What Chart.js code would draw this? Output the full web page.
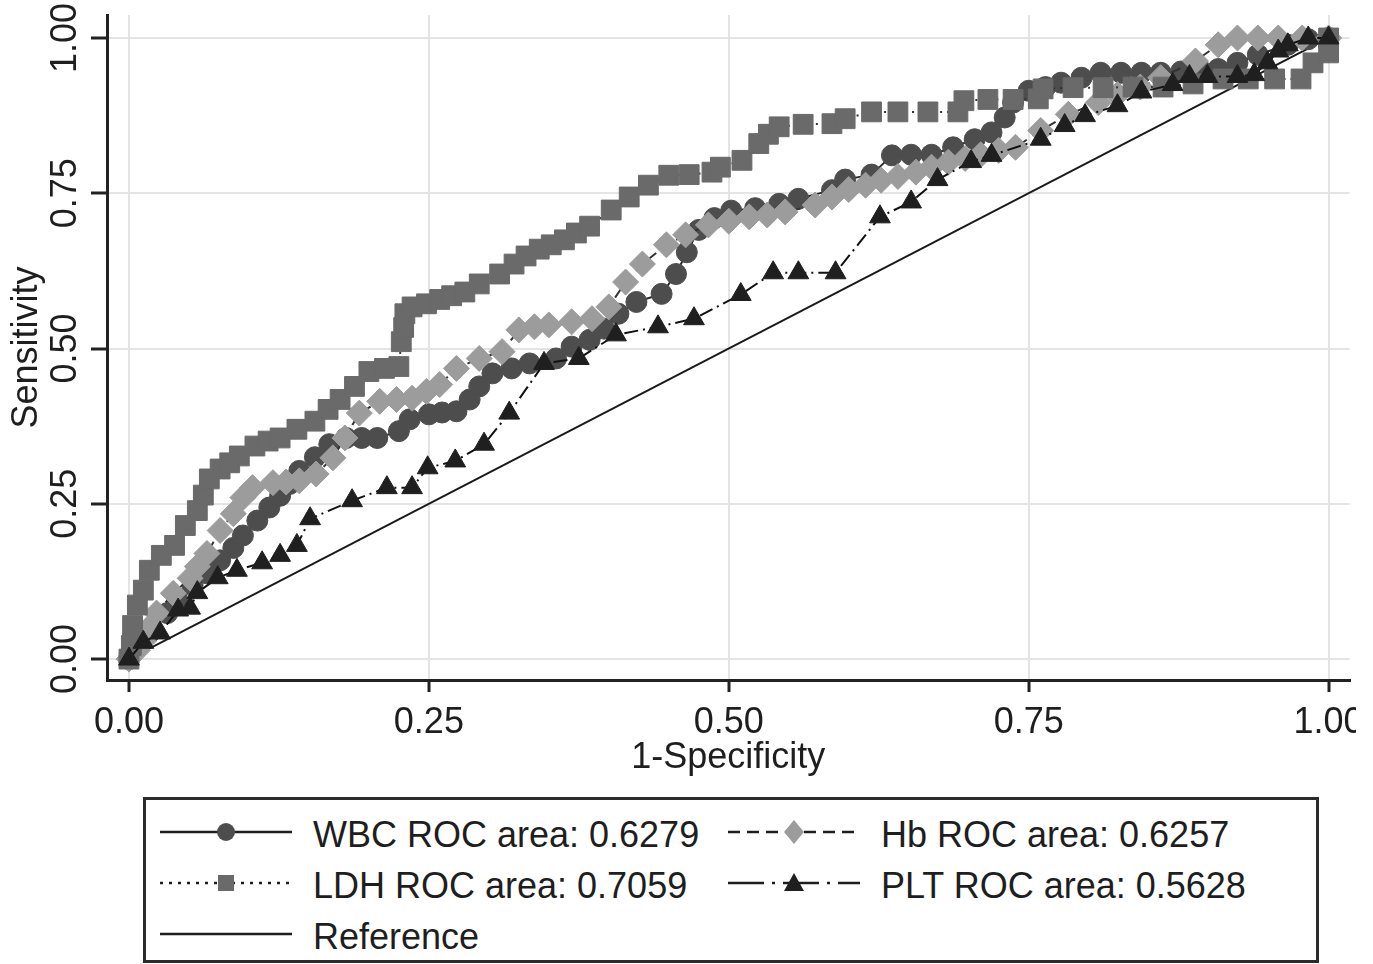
<!DOCTYPE html>
<html>
<head>
<meta charset="utf-8">
<script src="https://cdn.jsdelivr.net/npm/chart.js@4/dist/chart.umd.min.js"></script>
<style>
  html, body { margin: 0; padding: 0; background: #fff; }
  body { width: 1373px; height: 964px; position: relative; overflow: hidden; font-family: 'Liberation Sans', Arial, sans-serif; }
  #wrap { position: absolute; left: 0; top: 0; width: 1356px; height: 964px; overflow: hidden; }
  #legend { position: absolute; left: 143px; top: 797px; width: 1176px; height: 166px; box-sizing: border-box; border: 3px solid #2b2b2b; background: #fff; }
  .item { position: absolute; height: 50px; }
  .item svg { position: absolute; left: 0; top: 0; }
  .item span { position: absolute; top: 3px; font-size: 36px; color: #1e1e1e; white-space: nowrap; line-height: 44px; }
</style>
</head>
<body>
<div id="wrap"><canvas id="roc" width="1373" height="964"></canvas></div>
<div id="legend"></div>
<script>
// ROC points (1-specificity, sensitivity)
const wbcFpr = [0, 0.003, 0.017, 0.032, 0.040, 0.053, 0.065, 0.076, 0.087, 0.095, 0.107, 0.117, 0.126, 0.134, 0.142, 0.155, 0.167, 0.181, 0.194, 0.207, 0.225, 0.234, 0.250, 0.261, 0.273, 0.284, 0.292, 0.303, 0.319, 0.334, 0.356, 0.369, 0.384, 0.396, 0.408, 0.423, 0.444, 0.456, 0.465, 0.475, 0.488, 0.502, 0.522, 0.542, 0.558, 0.586, 0.597, 0.619, 0.636, 0.652, 0.669, 0.687, 0.705, 0.719, 0.730, 0.737, 0.750, 0.764, 0.777, 0.794, 0.810, 0.827, 0.844, 0.860, 0.877, 0.894, 0.908, 0.924, 0.941, 0.966, 0.983, 1];
const wbcTpr = [0, 0.019, 0.042, 0.074, 0.098, 0.119, 0.138, 0.159, 0.179, 0.199, 0.223, 0.244, 0.263, 0.282, 0.303, 0.325, 0.346, 0.356, 0.356, 0.356, 0.367, 0.386, 0.394, 0.397, 0.399, 0.418, 0.439, 0.460, 0.468, 0.476, 0.484, 0.503, 0.514, 0.532, 0.556, 0.575, 0.588, 0.620, 0.655, 0.691, 0.710, 0.722, 0.726, 0.733, 0.741, 0.755, 0.772, 0.780, 0.811, 0.812, 0.812, 0.824, 0.837, 0.848, 0.872, 0.896, 0.915, 0.921, 0.928, 0.936, 0.944, 0.944, 0.944, 0.944, 0.946, 0.947, 0.950, 0.960, 0.973, 0.989, 0.998, 1];

const hbFpr = [0, 0.007, 0.012, 0.017, 0.023, 0.037, 0.051, 0.057, 0.065, 0.076, 0.087, 0.095, 0.103, 0.120, 0.131, 0.142, 0.156, 0.170, 0.180, 0.192, 0.209, 0.223, 0.236, 0.248, 0.259, 0.273, 0.292, 0.311, 0.325, 0.338, 0.350, 0.369, 0.386, 0.400, 0.414, 0.428, 0.448, 0.464, 0.483, 0.500, 0.517, 0.532, 0.547, 0.572, 0.586, 0.600, 0.614, 0.627, 0.641, 0.656, 0.669, 0.683, 0.697, 0.710, 0.725, 0.739, 0.760, 0.783, 0.808, 0.824, 0.843, 0.860, 0.889, 0.908, 0.924, 0.941, 0.958, 0.978, 1];
const hbTpr = [0, 0.014, 0.029, 0.051, 0.074, 0.106, 0.130, 0.149, 0.170, 0.207, 0.234, 0.260, 0.276, 0.284, 0.285, 0.287, 0.298, 0.324, 0.356, 0.396, 0.415, 0.418, 0.420, 0.431, 0.442, 0.468, 0.484, 0.495, 0.530, 0.535, 0.538, 0.543, 0.548, 0.567, 0.607, 0.636, 0.667, 0.683, 0.699, 0.705, 0.712, 0.715, 0.720, 0.731, 0.744, 0.756, 0.763, 0.771, 0.777, 0.784, 0.792, 0.800, 0.806, 0.812, 0.819, 0.824, 0.851, 0.877, 0.896, 0.909, 0.921, 0.936, 0.963, 0.989, 1, 1, 1, 1, 1];

const ldhFpr = [0, 0.002, 0.003, 0.007, 0.012, 0.017, 0.027, 0.038, 0.047, 0.057, 0.062, 0.067, 0.076, 0.084, 0.092, 0.105, 0.116, 0.126, 0.140, 0.155, 0.166, 0.176, 0.188, 0.200, 0.213, 0.225, 0.227, 0.229, 0.230, 0.236, 0.248, 0.259, 0.269, 0.280, 0.292, 0.309, 0.321, 0.331, 0.342, 0.352, 0.363, 0.373, 0.384, 0.402, 0.417, 0.433, 0.450, 0.467, 0.486, 0.493, 0.511, 0.525, 0.533, 0.542, 0.562, 0.586, 0.597, 0.619, 0.641, 0.666, 0.691, 0.696, 0.716, 0.737, 0.758, 0.762, 0.787, 0.812, 0.837, 0.862, 0.887, 0.912, 0.933, 0.955, 0.977, 0.987, 1, 1];
const ldhTpr = [0, 0.022, 0.054, 0.087, 0.111, 0.143, 0.167, 0.183, 0.215, 0.239, 0.264, 0.290, 0.306, 0.316, 0.327, 0.343, 0.351, 0.356, 0.370, 0.383, 0.402, 0.418, 0.439, 0.463, 0.468, 0.471, 0.511, 0.534, 0.556, 0.567, 0.572, 0.579, 0.585, 0.591, 0.604, 0.620, 0.636, 0.649, 0.660, 0.667, 0.675, 0.686, 0.697, 0.723, 0.744, 0.763, 0.779, 0.780, 0.784, 0.792, 0.803, 0.830, 0.845, 0.857, 0.861, 0.862, 0.870, 0.881, 0.881, 0.881, 0.881, 0.899, 0.901, 0.901, 0.902, 0.918, 0.920, 0.920, 0.921, 0.921, 0.926, 0.934, 0.934, 0.934, 0.934, 0.960, 0.976, 1];

const pltFpr = [0, 0.012, 0.026, 0.041, 0.051, 0.057, 0.074, 0.090, 0.111, 0.126, 0.140, 0.151, 0.186, 0.215, 0.236, 0.249, 0.272, 0.296, 0.317, 0.346, 0.375, 0.406, 0.441, 0.471, 0.510, 0.537, 0.558, 0.589, 0.626, 0.652, 0.674, 0.702, 0.719, 0.760, 0.780, 0.797, 0.824, 0.844, 0.870, 0.884, 0.899, 0.924, 0.938, 0.949, 0.958, 0.966, 0.983, 1];
const pltTpr = [0, 0.027, 0.042, 0.079, 0.082, 0.107, 0.131, 0.143, 0.155, 0.167, 0.183, 0.226, 0.255, 0.276, 0.276, 0.308, 0.319, 0.346, 0.396, 0.476, 0.484, 0.522, 0.535, 0.548, 0.587, 0.622, 0.622, 0.622, 0.712, 0.736, 0.772, 0.801, 0.811, 0.837, 0.859, 0.875, 0.891, 0.913, 0.925, 0.938, 0.938, 0.938, 0.941, 0.960, 0.979, 0.989, 1, 1];

const refX = [0, 1];
const refY = [0, 1];

const tickVals = [0, 0.25, 0.5, 0.75, 1];
const seriesNames = ['WBC ROC area: 0.6279', 'Hb ROC area: 0.6257', 'LDH ROC area: 0.7059', 'PLT ROC area: 0.5628', 'Reference'];

const FONT = "'Liberation Sans', Arial, sans-serif";

function pts(xs, ys) {
  return xs.map((x, i) => ({ x: x, y: ys[i] }));
}

// draw order: lower "order" ends up on top
const datasets = [
  {
    label: seriesNames[3], data: pts(pltFpr, pltTpr), order: 1,
    showLine: true, borderColor: '#111', borderWidth: 2, borderDash: [14, 5, 2, 5],
    pointStyle: 'triangle', pointRadius: 12, pointBackgroundColor: '#1f1f1f', pointBorderColor: '#1f1f1f', pointBorderWidth: 1
  },
  {
    label: seriesNames[2], data: pts(ldhFpr, ldhTpr), order: 2,
    showLine: true, borderColor: '#333', borderWidth: 2, borderDash: [2, 5],
    pointStyle: 'rect', pointRadius: 14, pointBackgroundColor: '#6a6a6a', pointBorderColor: '#6a6a6a', pointBorderWidth: 1
  },
  {
    label: seriesNames[1], data: pts(hbFpr, hbTpr), order: 3,
    showLine: true, borderColor: '#333', borderWidth: 2, borderDash: [10, 7],
    pointStyle: 'rectRot', pointRadius: 13, pointBackgroundColor: '#9c9c9c', pointBorderColor: '#9c9c9c', pointBorderWidth: 1
  },
  {
    label: seriesNames[0], data: pts(wbcFpr, wbcTpr), order: 4,
    showLine: true, borderColor: '#2a2a2a', borderWidth: 2,
    pointStyle: 'circle', pointRadius: 10.5, pointBackgroundColor: '#4d4d4d', pointBorderColor: '#4d4d4d', pointBorderWidth: 1
  },
  {
    label: seriesNames[4], data: pts(refX, refY), order: 5,
    showLine: true, borderColor: '#1a1a1a', borderWidth: 2, pointRadius: 0
  }
];

new Chart(document.getElementById('roc'), {
  type: 'scatter',
  data: { datasets: datasets },
  options: {
    responsive: false,
    animation: false,
    layout: { padding: { left: 0, right: 21, top: 12, bottom: 184 } },
    plugins: { legend: { display: false }, tooltip: { enabled: false } },
    scales: {
      x: {
        type: 'linear', min: -0.0183, max: 1.0175,
        afterBuildTicks: (s) => { s.ticks = tickVals.map(v => ({ value: v })); },
        afterFit: (s) => { s.height = 100; },
        border: { display: true, color: '#222', width: 3 },
        grid: { color: '#e4e4e4', lineWidth: 2, tickColor: '#222', tickWidth: 3, tickLength: 12 },
        ticks: { autoSkip: false, maxRotation: 0, padding: 9, color: '#1e1e1e', font: { family: FONT, size: 36 }, callback: (v) => v.toFixed(2) },
        title: { display: true, text: '1-Specificity', color: '#1e1e1e', font: { family: FONT, size: 36 }, padding: { top: 0, bottom: 0 } }
      },
      y: {
        type: 'linear', min: -0.0337, max: 1.037,
        afterBuildTicks: (s) => { s.ticks = tickVals.map(v => ({ value: v })); },
        afterFit: (s) => { s.width = 107; },
        border: { display: true, color: '#222', width: 3 },
        grid: { color: '#e4e4e4', lineWidth: 2, tickColor: '#222', tickWidth: 3, tickLength: 16 },
        ticks: { autoSkip: false, minRotation: 90, maxRotation: 90, crossAlign: 'center', padding: -10, color: '#1e1e1e', font: { family: FONT, size: 36 }, callback: (v) => v.toFixed(2) },
        title: { display: true, text: 'Sensitivity', color: '#1e1e1e', font: { family: FONT, size: 36 }, padding: { top: 5, bottom: 0 } }
      }
    }
  }
});

// legend below the plot, like the Stata one
const legendItems = [
  { name: seriesNames[0], left: 12, top: 10, color: '#4d4d4d', marker: 'circle', dash: '' },
  { name: seriesNames[1], left: 580, top: 10, color: '#9c9c9c', marker: 'diamond', dash: '12 7' },
  { name: seriesNames[2], left: 12, top: 61, color: '#6a6a6a', marker: 'square', dash: '3 6' },
  { name: seriesNames[3], left: 580, top: 61, color: '#1f1f1f', marker: 'triangle', dash: '36 8 3 8' },
  { name: seriesNames[4], left: 12, top: 112, color: null, marker: null, dash: '' }
];

function markerSvg(kind, color) {
  const cx = 68, cy = 22;
  if (kind === 'circle') return '<circle cx="' + cx + '" cy="' + cy + '" r="9" fill="' + color + '"/>';
  if (kind === 'square') return '<rect x="' + (cx - 8) + '" y="' + (cy - 8) + '" width="16" height="16" fill="' + color + '"/>';
  if (kind === 'diamond') return '<polygon points="' + cx + ',' + (cy - 12) + ' ' + (cx + 10) + ',' + cy + ' ' + cx + ',' + (cy + 12) + ' ' + (cx - 10) + ',' + cy + '" fill="' + color + '"/>';
  if (kind === 'triangle') return '<polygon points="' + cx + ',' + (cy - 10) + ' ' + (cx + 10) + ',' + (cy + 8) + ' ' + (cx - 10) + ',' + (cy + 8) + '" fill="' + color + '"/>';
  return '';
}

const legendBox = document.getElementById('legend');
legendItems.forEach((it) => {
  const div = document.createElement('div');
  div.className = 'item';
  div.style.left = it.left + 'px';
  div.style.top = it.top + 'px';
  const dash = it.dash ? ' stroke-dasharray="' + it.dash + '"' : '';
  div.innerHTML =
    '<svg width="140" height="44"><line x1="2" y1="22" x2="134" y2="22" stroke="#1e1e1e" stroke-width="2.5"' + dash + '/>' +
    markerSvg(it.marker, it.color) + '</svg>' +
    '<span style="left:155px">' + it.name + '</span>';
  legendBox.appendChild(div);
});
</script>
</body>
</html>
